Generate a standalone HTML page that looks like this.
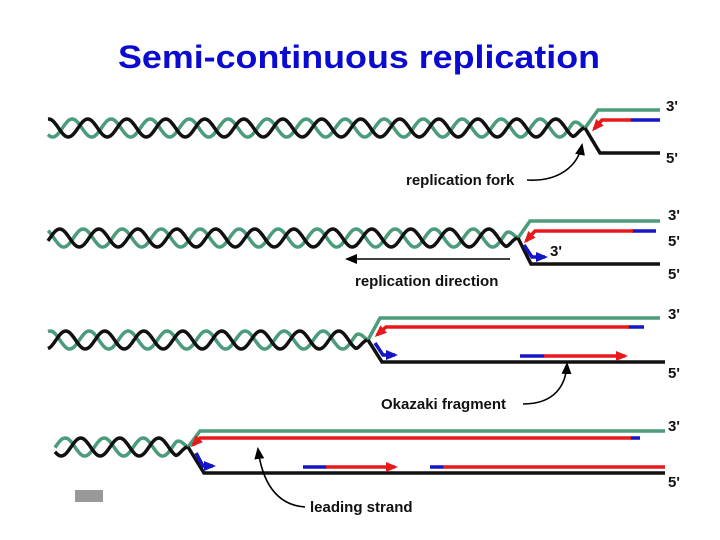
<!DOCTYPE html>
<html><head><meta charset="utf-8"><style>
html,body{margin:0;padding:0;background:#fff;}
svg{display:block}
text{font-family:"Liberation Sans",Arial,sans-serif;}
</style></head><body>
<svg id="s" width="720" height="540" viewBox="0 0 720 540" xmlns="http://www.w3.org/2000/svg">
<defs>
<marker id="ar" markerWidth="12" markerHeight="10" refX="9" refY="5" orient="auto" markerUnits="userSpaceOnUse"><path d="M0,0 L12,5 L0,10 z" fill="#e8191c"/></marker>
<marker id="ab" markerWidth="12" markerHeight="10" refX="9" refY="5" orient="auto" markerUnits="userSpaceOnUse"><path d="M0,0 L12,5 L0,10 z" fill="#1515c8"/></marker>
<marker id="ak" markerWidth="12" markerHeight="10" refX="10" refY="5" orient="auto" markerUnits="userSpaceOnUse"><path d="M0,0 L12,5 L0,10 z" fill="#000"/></marker>
</defs>
<text x="359" y="68" text-anchor="middle" font-size="32" font-weight="bold" fill="#0a0ad0" textLength="482" lengthAdjust="spacingAndGlyphs">Semi-continuous replication</text>
<g id="hel"></g>
<g fill="none" stroke-width="3.5" stroke-linejoin="miter">
<polyline points="585,128 598,110 660,110" stroke="#4a9c7a"/>
<polyline points="585,128 600,153 660,153" stroke="#111"/>
<line x1="630" y1="120" x2="660" y2="120" stroke="#1515c8"/>
<polyline points="631,120 602,120 594,129" stroke="#e8191c" marker-end="url(#ar)"/>
<polyline points="518,238 530,221 660,221" stroke="#4a9c7a"/>
<polyline points="518,238 531,264 660,264" stroke="#111"/>
<line x1="632" y1="231" x2="656" y2="231" stroke="#1515c8"/>
<polyline points="633,231 535,231 526,241" stroke="#e8191c" marker-end="url(#ar)"/>
<polyline points="524,245 532,257 545,257" stroke="#1515c8" marker-end="url(#ab)"/>
<polyline points="368,340 380,318 660,318" stroke="#4a9c7a"/>
<polyline points="368,340 382,362 665,362" stroke="#111"/>
<line x1="628" y1="327" x2="644" y2="327" stroke="#1515c8"/>
<polyline points="629,327 386,327 377,335" stroke="#e8191c" marker-end="url(#ar)"/>
<polyline points="375,343 383,355 395,355" stroke="#1515c8" marker-end="url(#ab)"/>
<line x1="520" y1="356" x2="545" y2="356" stroke="#1515c8"/>
<line x1="544" y1="356" x2="625" y2="356" stroke="#e8191c" marker-end="url(#ar)"/>
<polyline points="188,447 200,431 665,431" stroke="#4a9c7a"/>
<polyline points="188,447 204,473 665,473" stroke="#111"/>
<line x1="630" y1="438" x2="640" y2="438" stroke="#1515c8"/>
<polyline points="631,438 200,438 193,445" stroke="#e8191c" marker-end="url(#ar)"/>
<polyline points="196,453 203,466 213,466" stroke="#1515c8" marker-end="url(#ab)"/>
<line x1="303" y1="467" x2="327" y2="467" stroke="#1515c8"/>
<line x1="326" y1="467" x2="395" y2="467" stroke="#e8191c" marker-end="url(#ar)"/>
<line x1="430" y1="467" x2="444" y2="467" stroke="#1515c8"/>
<line x1="443" y1="467" x2="665" y2="467" stroke="#e8191c"/>
</g>
<g fill="none" stroke="#000" stroke-width="1.6">
<path d="M527,180 C560,182 578,165 582,145" marker-end="url(#ak)"/>
<line x1="510" y1="259" x2="347" y2="259" marker-end="url(#ak)"/>
<path d="M523,404 C555,404 566,385 567,364" marker-end="url(#ak)"/>
<path d="M305,507 C275,505 262,480 258,449" marker-end="url(#ak)"/>
</g>
<g font-size="15" font-weight="bold" fill="#111">
<text x="406" y="185">replication fork</text>
<text x="355" y="286">replication direction</text>
<text x="381" y="409">Okazaki fragment</text>
<text x="310" y="512">leading strand</text>
<text x="550" y="256">3'</text>
<text x="666" y="111">3'</text>
<text x="666" y="163">5'</text>
<text x="668" y="220">3'</text>
<text x="668" y="246">5'</text>
<text x="668" y="279">5'</text>
<text x="668" y="319">3'</text>
<text x="668" y="378">5'</text>
<text x="668" y="431">3'</text>
<text x="668" y="487">5'</text>
</g>
<rect x="75" y="490" width="28" height="12" fill="#999"/>
<script>
(function(){
var g=document.getElementById('hel');
function helix(x0,x1,cy){
 var A=9,P=39,off=0.4*2*Math.PI,s1='',s2='';
 for(var x=x0;x<=x1;x+=1){
  var t=(x1-x)/P*2*Math.PI;
  var y1=cy+A*Math.sin(t), y2=cy+A*Math.sin(t-off);
  var k=Math.min(1,(x1-x)/12);
  y1=cy+(y1-cy)*k; y2=cy+(y2-cy)*k;
  s1+=(x==x0?'M':'L')+x+','+y1.toFixed(1);
  s2+=(x==x0?'M':'L')+x+','+y2.toFixed(1);
 }
 var ns='http://www.w3.org/2000/svg';
 [[s2,'#4a9c7a'],[s1,'#111']].forEach(function(a){
  var p=document.createElementNS(ns,'path');
  p.setAttribute('d',a[0]);p.setAttribute('fill','none');
  p.setAttribute('stroke',a[1]);p.setAttribute('stroke-width','3.5');
  g.appendChild(p);
 });
}
helix(48,585,128);
helix(48,518,238);
helix(48,368,340);
helix(55,188,447);
})();
</script>
</svg>
</body></html>
